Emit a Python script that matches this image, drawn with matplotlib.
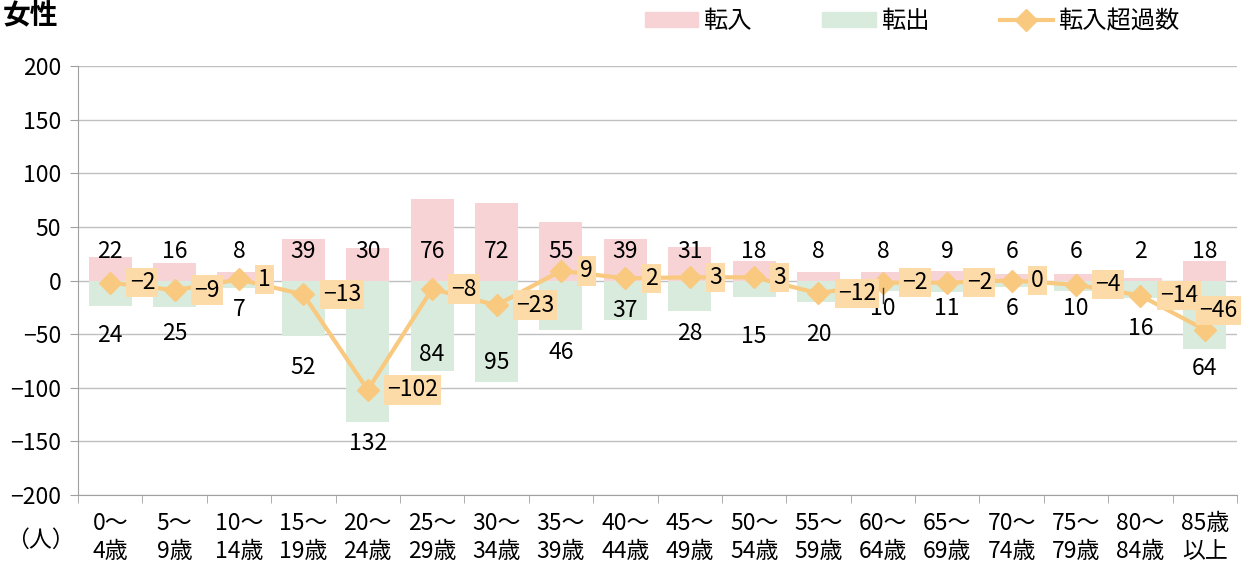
# 女性 年齢別 転入・転出・転入超過数
import matplotlib
matplotlib.use("Agg")
import matplotlib.pyplot as plt
from matplotlib.patches import Patch
from matplotlib.lines import Line2D
import numpy as np

plt.rcParams['font.family'] = ['Noto Sans CJK JP', 'DejaVu Sans']

# データ
ages = ["0～\n4歳", "5～\n9歳", "10～\n14歳", "15～\n19歳", "20～\n24歳", "25～\n29歳",
        "30～\n34歳", "35～\n39歳", "40～\n44歳", "45～\n49歳", "50～\n54歳", "55～\n59歳",
        "60～\n64歳", "65～\n69歳", "70～\n74歳", "75～\n79歳", "80～\n84歳", "85歳\n以上"]
tennyu = [22, 16, 8, 39, 30, 76, 72, 55, 39, 31, 18, 8, 8, 9, 6, 6, 2, 18]
tenshutsu = [24, 25, 7, 52, 132, 84, 95, 46, 37, 28, 15, 20, 10, 11, 6, 10, 16, 64]
net = [-2, -9, 1, -13, -102, -8, -23, 9, 2, 3, 3, -12, -2, -2, 0, -4, -14, -46]

# ラベル位置 (手動調整した位置, 人)
in_label_y = 27
out_label_y = [-51, -49, -27, -81, -152, -69, -76, -67, -28, -49, -52, -50,
               -26, -26, -26, -26, -45, -82]

c_in = "#F7D3D6"
c_out = "#D8EBDD"
c_line = "#F9C97F"
c_box = "#FCDBA8"
fs = 16.5

fig = plt.figure(figsize=(12.42, 5.71), dpi=100)
ax = fig.add_axes([78 / 1242, 1 - 495 / 571, 1159 / 1242, 429 / 571])

x = np.arange(len(ages))
ax.bar(x, tennyu, width=0.67, color=c_in, zorder=2)
ax.bar(x, [-v for v in tenshutsu], width=0.67, color=c_out, zorder=2)
ax.plot(x, net, color=c_line, linewidth=3, marker="D", markersize=11, zorder=3)

# 数値ラベル
for i in x:
    ax.text(i, in_label_y, str(tennyu[i]), ha="center", va="center", fontsize=fs, zorder=4)
    ax.text(i, out_label_y[i], str(tenshutsu[i]), ha="center", va="center", fontsize=fs, zorder=4)
    s = str(net[i]).replace("-", "\u2212")
    if i == len(x) - 1:
        off = (-4, 14)
    else:
        off = (14, 0)
    ax.annotate(s, (i, net[i]), xytext=off, textcoords="offset points",
                ha="left", va="center", fontsize=fs, zorder=5 + (i == len(x) - 1),
                bbox=dict(boxstyle="square,pad=0.14", fc=c_box, ec="none"))

# 60～64歳のラベルの引き出し線
k = 12
ax.plot([k, k], [-tenshutsu[k] + 3, out_label_y[k] + 5], color="#404040", linewidth=1, zorder=4)

ax.set_xlim(-0.5, len(ages) - 0.5)
ax.set_ylim(-200, 200)
ax.set_yticks(np.arange(-200, 201, 50))
ax.yaxis.grid(True, color="#C0C0C0", linewidth=1)
ax.set_axisbelow(True)

ax.set_xticks(x)
ax.set_xticklabels(ages, fontsize=fs, linespacing=1.3)
ax.set_xticks(np.arange(-0.5, len(ages)), minor=True)
ax.tick_params(axis="x", which="major", length=0, pad=12)
ax.tick_params(axis="x", which="minor", length=6, color="#A0A0A0")
ax.tick_params(axis="y", labelsize=fs, length=6, color="#A0A0A0", pad=6)

for side in ["top", "right"]:
    ax.spines[side].set_visible(False)
for side in ["left", "bottom"]:
    ax.spines[side].set_color("#A0A0A0")

fig.text(3 / 1242, 1 - 1 / 571, "女性", fontsize=20, fontweight="bold", va="top", ha="left")
fig.text(40 / 1242, 1 - 540 / 571, "（人）", fontsize=fs, va="center", ha="center")

handles = [Patch(color=c_in), Patch(color=c_out),
           Line2D([0], [0], color=c_line, linewidth=3, marker="D", markersize=11)]
fig.legend(handles, ["転入", "転出", "転入超過数"], loc="center", ncol=3,
           bbox_to_anchor=(912 / 1242, 1 - 21 / 571), frameon=False, fontsize=17.5,
           handlelength=2.2, handleheight=0.6, handletextpad=0.2, columnspacing=2.9)

plt.savefig("out.png", dpi=100)
